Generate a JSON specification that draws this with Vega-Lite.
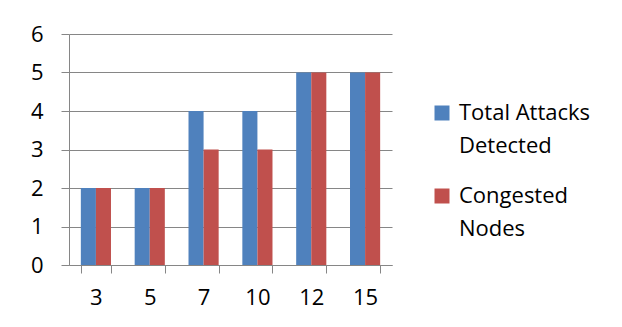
{
  "$schema": "https://vega.github.io/schema/vega-lite/v6.json",
  "width": 323,
  "height": 231,
  "autosize": "none",
  "padding": {"left": 69, "top": 34, "right": 230, "bottom": 62},
  "background": "white",
  "config": {
    "view": {"stroke": null},
    "font": "Open Sans"
  },
  "data": {
    "values": [
      {"n": 3, "series": "Total Attacks Detected", "value": 2},
      {"n": 3, "series": "Congested Nodes", "value": 2},
      {"n": 5, "series": "Total Attacks Detected", "value": 2},
      {"n": 5, "series": "Congested Nodes", "value": 2},
      {"n": 7, "series": "Total Attacks Detected", "value": 4},
      {"n": 7, "series": "Congested Nodes", "value": 3},
      {"n": 10, "series": "Total Attacks Detected", "value": 4},
      {"n": 10, "series": "Congested Nodes", "value": 3},
      {"n": 12, "series": "Total Attacks Detected", "value": 5},
      {"n": 12, "series": "Congested Nodes", "value": 5},
      {"n": 15, "series": "Total Attacks Detected", "value": 5},
      {"n": 15, "series": "Congested Nodes", "value": 5}
    ]
  },
  "mark": {"type": "bar"},
  "encoding": {
    "x": {
      "field": "n",
      "type": "ordinal",
      "sort": "ascending",
      "scale": {"paddingInner": 0.44, "paddingOuter": 0.22},
      "axis": {
        "title": null,
        "labelAngle": 0,
        "labelFontSize": 22,
        "labelColor": "#000000",
        "labelPadding": 14,
        "tickBand": "extent",
        "tickSize": 8,
        "tickColor": "#868686",
        "domainColor": "#868686",
        "labelFont": "Open Sans"
      }
    },
    "xOffset": {
      "field": "series",
      "type": "nominal",
      "sort": ["Total Attacks Detected", "Congested Nodes"],
      "scale": {"paddingInner": 0, "paddingOuter": 0}
    },
    "y": {
      "field": "value",
      "type": "quantitative",
      "scale": {"domain": [0, 6], "nice": false},
      "axis": {
        "title": null,
        "values": [0, 1, 2, 3, 4, 5, 6],
        "labelFontSize": 22,
        "labelColor": "#000000",
        "labelPadding": 18,
        "tickSize": 8,
        "tickColor": "#868686",
        "domainColor": "#868686",
        "gridColor": "#868686",
        "labelFont": "Open Sans"
      }
    },
    "color": {
      "field": "series",
      "type": "nominal",
      "sort": ["Total Attacks Detected", "Congested Nodes"],
      "scale": {"domain": ["Total Attacks Detected", "Congested Nodes"], "range": ["#4F81BD", "#C0504D"]},
      "legend": {
        "title": null,
        "orient": "none",
        "legendX": 362,
        "legendY": 68,
        "padding": 0,
        "symbolType": "square",
        "symbolSize": 225,
        "symbolStrokeWidth": 0,
        "labelFontSize": 22,
        "labelFont": "Open Sans",
        "labelColor": "#000000",
        "labelOffset": 6,
        "labelBaseline": "alphabetic",
        "labelLimit": 300,
        "rowPadding": 28,
        "labelExpr": "datum.label == 'Total Attacks Detected' ? ['Total Attacks', 'Detected'] : ['Congested', 'Nodes']",
        "encode": {
          "labels": {
            "update": {
              "lineHeight": {"value": 33},
              "dy": {"value": 7}
            }
          }
        }
      }
    }
  }
}
